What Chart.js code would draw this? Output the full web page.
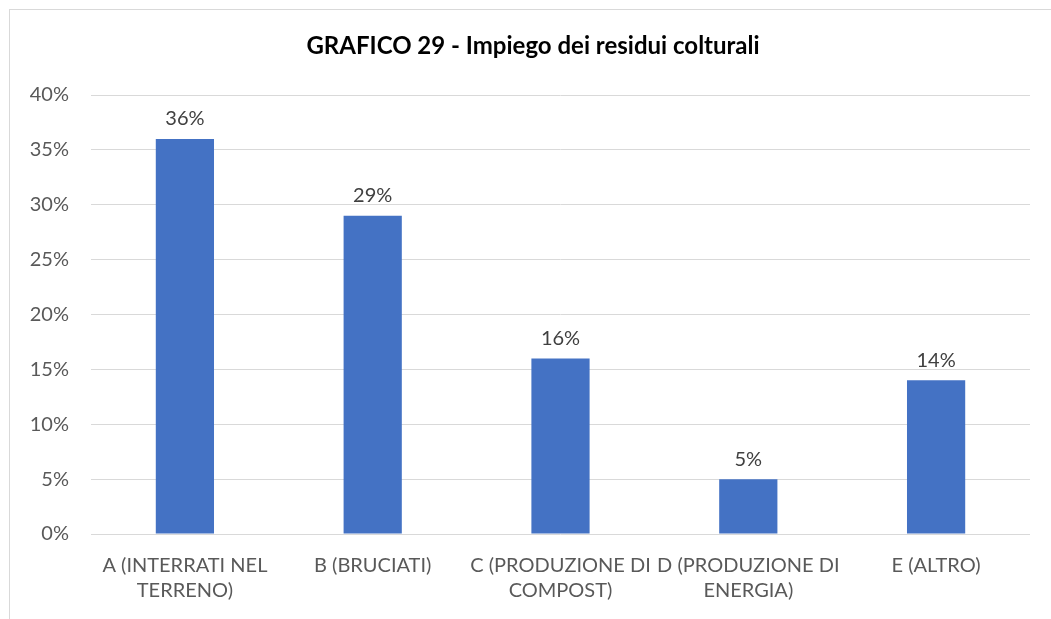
<!DOCTYPE html>
<html>
<head>
<meta charset="utf-8">
<script src="https://cdn.jsdelivr.net/npm/chart.js@4.4.1/dist/chart.umd.min.js"></script>
<style>
  html, body { margin: 0; padding: 0; background: #fff; }
  .wrap { position: relative; width: 1051px; height: 619px; overflow: hidden; }
  .frame { position: absolute; left: 9px; top: 9px; width: 1100px; height: 700px; border: 1px solid #d9d9d9; }
  canvas { position: absolute; left: 0; top: 0; }
</style>
</head>
<body>
<div class="wrap">
  <div class="frame"></div>
  <canvas id="chart" width="1051" height="619"></canvas>
</div>
<script>
// data
const categories = [
  ["A (INTERRATI NEL", "TERRENO)"],
  ["B (BRUCIATI)"],
  ["C (PRODUZIONE DI", "COMPOST)"],
  ["D (PRODUZIONE DI", "ENERGIA)"],
  ["E (ALTRO)"],
];
const values = [36, 29, 16, 5, 14];
const yTicks = [0, 5, 10, 15, 20, 25, 30, 35, 40];
const chartTitle = "GRAFICO 29 - Impiego dei residui colturali";

const FONT = "Lato, 'Open Sans', sans-serif";

// value labels above bars + title centred on the original frame
const barLabels = {
  id: "barLabels",
  afterDatasetsDraw(chart) {
    const ctx = chart.ctx;
    const meta = chart.getDatasetMeta(0);
    ctx.save();
    ctx.fillStyle = "#404040";
    ctx.font = "20px " + FONT;
    ctx.textAlign = "center";
    ctx.textBaseline = "bottom";
    meta.data.forEach((bar, i) => {
      ctx.fillText(values[i] + "%", bar.x, bar.y - 10);
    });
    ctx.fillStyle = "#000";
    ctx.font = "bold 24px " + FONT;
    ctx.textBaseline = "middle";
    ctx.fillText(chartTitle, 533, 46);
    ctx.restore();
  },
};

new Chart(document.getElementById("chart"), {
  type: "bar",
  data: {
    labels: categories,
    datasets: [
      {
        data: values,
        backgroundColor: "#4472c4",
        categoryPercentage: 1,
        barPercentage: 0.31,
      },
    ],
  },
  options: {
    responsive: false,
    animation: false,
    layout: { padding: { left: 0, right: 21, top: 95, bottom: 0 } },
    plugins: {
      legend: { display: false },
      tooltip: { enabled: false },
      title: { display: false },
    },
    scales: {
      x: {
        grid: { display: false },
        border: { display: false },
        ticks: {
          color: "#595959",
          font: { family: FONT, size: 20, lineHeight: 1.25 },
          padding: 11,
          maxRotation: 0,
          autoSkip: false,
        },
        afterFit(s) { s.height = 85; },
      },
      y: {
        min: 0,
        max: 40,
        afterBuildTicks(s) { s.ticks = yTicks.map((v) => ({ value: v })); },
        grid: { color: "#d9d9d9", lineWidth: 1, drawTicks: false },
        border: { display: false },
        ticks: {
          color: "#595959",
          font: { family: FONT, size: 20 },
          padding: 22,
          callback: (v) => v + "%",
        },
        afterFit(s) { s.width = 91; },
      },
    },
  },
  plugins: [barLabels],
});
</script>
</body>
</html>
